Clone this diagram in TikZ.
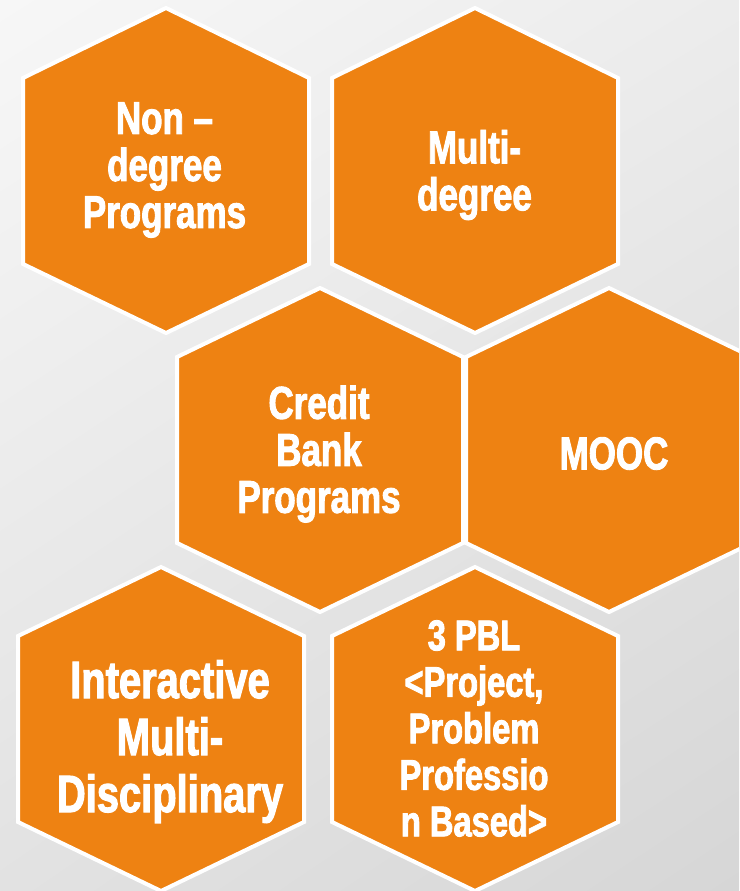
\documentclass[tikz,border=0pt]{standalone}
\usepackage{fontspec}
\newfontfamily\hexfont[FakeStretch=0.76, FakeBold=2]{Liberation Sans}
\usetikzlibrary{positioning, shadings}
\definecolor{hexorange}{RGB}{238,130,18}
\definecolor{bgul}{RGB}{247,247,247}
\definecolor{bgur}{RGB}{236,236,236}
\definecolor{bgll}{RGB}{226,226,226}
\definecolor{bglr}{RGB}{214,214,214}

\begin{document}
\begin{tikzpicture}[
  x=1pt, y=-1pt,
  hexa/.style={fill=hexorange, draw=white, line width=4pt, line join=miter},
  hextext/.style={text=white, align=center, inner sep=0pt,
    font=\hexfont\bfseries\fontsize{46}{47}\selectfont},
  bigtext/.style={hextext, font=\hexfont\bfseries\fontsize{52.5}{57}\selectfont},
  smalltext/.style={hextext, font=\hexfont\bfseries\fontsize{43}{46.5}\selectfont}
]
  % Background
  \useasboundingbox (0,0) rectangle (739,891);
  \clip (0,0) rectangle (739,891);
  \shade[upper left=bgul, upper right=bgur, lower left=bgll, lower right=bglr]
    (0,0) rectangle (739,891);

  % Hexagon cells
  \draw[hexa] (166,8) -- (309,78) -- (309,264) -- (166,333) -- (23,264) -- (23,78) -- cycle;
  \draw[hexa] (475,8) -- (618,78) -- (618,264) -- (475,333) -- (332,264) -- (332,78) -- cycle;
  \draw[hexa] (320,288) -- (463,357) -- (463,543) -- (320,612) -- (177,543) -- (177,357) -- cycle;
  \draw[hexa] (609,288) -- (752,357) -- (752,543) -- (609,612) -- (466,543) -- (466,357) -- cycle;
  \draw[hexa] (161,567) -- (304,636) -- (304,822) -- (161,891) -- (18,822) -- (18,636) -- cycle;
  \draw[hexa] (475,567) -- (618,636) -- (618,822) -- (475,891) -- (332,822) -- (332,636) -- cycle;

  % Cell texts
  \node[hextext]  (nondeg)   at (164.5,170) {Non –\\degree\\Programs};
  \node[hextext]  (multideg) at (474.5,175) {Multi-\\degree};
  \node[hextext]  (credit)   at (319,454)   {Credit\\Bank\\Programs};
  \node[hextext]  (mooc)     at (614,453.5) {MOOC};
  \node[bigtext]  (inter)    at (170,741.5) {Interactive\\Multi-\\Disciplinary};
  \node[smalltext] (pbl)     at (474,728.5) {3 PBL\\<Project,\\Problem\\Professio\\n Based>};

\end{tikzpicture}
\end{document}
